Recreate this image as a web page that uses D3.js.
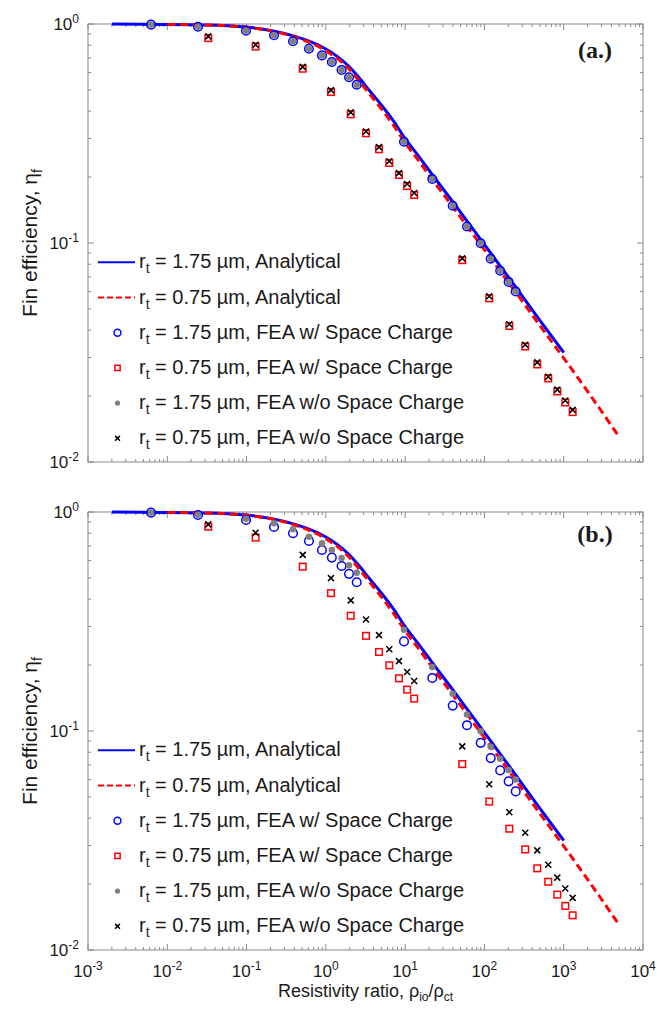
<!DOCTYPE html>
<html>
<head>
<meta charset="utf-8">
<script src="https://cdn.jsdelivr.net/npm/d3@7"></script>
<style>
  body { margin: 0; background: #fff; }
  text { font-family: "Liberation Sans", Arial, sans-serif; fill: #1a1a1a; }
</style>
</head>
<body>
<script>
  var w = 670 //width
  var h = 1011 //height
  var plotLeft = 88, plotRight = 643
  var panelTops = [24, 512]
  var panelH = 438

  //DATA

  // resistivity ratio of the FEA points
  var ratio175 = [0.00624, 0.0244, 0.0984, 0.222, 0.385, 0.612, 0.893, 1.19, 1.58, 1.96,
      2.45, 9.67, 22, 39.8, 60.3, 89.7, 120, 158, 202, 248];
  var ratio075 = [0.0329, 0.130, 0.511, 1.16, 2.06, 3.21, 4.68, 6.31, 8.36, 10.6,
      13.0, 52.5, 115, 206, 327, 464, 638, 830, 1047, 1297];

  // analytical curves
  var lineRatio175 = [0.002, 0.03, 0.1, 0.2, 0.4, 0.9, 1.4, 2, 2.5, 3.5, 5, 7, 10, 15, 22, 40, 90, 250, 500, 1000];
  var lineEta175 = [1.0, 0.99, 0.968, 0.935, 0.88, 0.785, 0.71, 0.635, 0.58, 0.50, 0.427, 0.364, 0.30, 0.2475,
      0.205, 0.154, 0.1035, 0.0627, 0.0443, 0.0316];
  var lineRatio075 = [0.01, 0.03, 0.1, 0.2, 0.4, 0.9, 1.4, 2, 2.5, 3.5, 5, 7, 10, 15, 22, 40, 90, 250, 500, 1000, 2000, 5100];
  var lineEta075 = [0.996, 0.99, 0.966, 0.932, 0.873, 0.772, 0.695, 0.618, 0.562, 0.483, 0.41, 0.348, 0.287, 0.236,
      0.195, 0.146, 0.098, 0.0594, 0.042, 0.0298, 0.021, 0.0129];

  // FEA without space charge (same in both panels)
  var eta175NoSC = [0.993, 0.972, 0.932, 0.888, 0.834, 0.771, 0.719, 0.671, 0.617, 0.571,
      0.528, 0.290, 0.196, 0.148, 0.119, 0.0997, 0.0848, 0.0747, 0.0664, 0.0601];
  var eta075NoSC = [0.878, 0.804, 0.637, 0.499, 0.395, 0.323, 0.274, 0.236, 0.2085, 0.186,
      0.169, 0.0851, 0.0571, 0.0426, 0.0343, 0.0285, 0.0245, 0.0214, 0.0191, 0.0173];

  // FEA with space charge, panel (a.)
  var eta175SCa = [0.993, 0.972, 0.932, 0.888, 0.834, 0.771, 0.719, 0.671, 0.617, 0.571,
      0.528, 0.290, 0.196, 0.148, 0.119, 0.0997, 0.0848, 0.0747, 0.0664, 0.0601];
  var eta075SCa = [0.862, 0.789, 0.625, 0.489, 0.387, 0.317, 0.268, 0.232, 0.2045, 0.182,
      0.1657, 0.0835, 0.0559, 0.0418, 0.0337, 0.0279, 0.0241, 0.021, 0.0187, 0.0169];

  // FEA with space charge, panel (b.)
  var eta175SCb = [0.993, 0.969, 0.920, 0.855, 0.800, 0.738, 0.671, 0.619, 0.567, 0.522,
      0.478, 0.2565, 0.1747, 0.1306, 0.1063, 0.0883, 0.0752, 0.0661, 0.0589, 0.053];
  var eta075SCb = [0.857, 0.764, 0.563, 0.426, 0.336, 0.272, 0.2296, 0.1995, 0.174, 0.1545,
      0.1406, 0.0706, 0.0476, 0.0358, 0.0288, 0.0236, 0.0205, 0.0179, 0.0159, 0.0144];

  var xTickExp = [-3, -2, -1, 0, 1, 2, 3, 4];
  var yTickExp = [-2, -1, 0];
  var panelLabels = ["(a.)", "(b.)"];
  var legendRadius = ["1.75", "0.75", "1.75", "0.75", "1.75", "0.75"];
  var legendKind = ["Analytical", "Analytical", "FEA w/ Space Charge", "FEA w/ Space Charge",
      "FEA w/o Space Charge", "FEA w/o Space Charge"];

  var panels = [
      { label: panelLabels[0], sc175: eta175SCa, sc075: eta075SCa, tickLabels: false },
      { label: panelLabels[1], sc175: eta175SCb, sc075: eta075SCb, tickLabels: true }
  ];

  //SCALES

  var x = d3.scaleLog()
      .domain([1e-3, 1e4])
      .range([plotLeft, plotRight]);

  var svg = d3.select("body")
      .append("svg")
      .attr("width", w)
      .attr("height", h);

  var axisColor = "#8a8a8a";

  function marker(g, kind, cx, cy, s) {
      if (kind == "circle") {
          g.append("circle").attr("cx", cx).attr("cy", cy).attr("r", 4.3 * s)
              .attr("fill", "none").attr("stroke", "#0000ff").attr("stroke-width", 1.5);
      } else if (kind == "square") {
          var a = 6.6 * s;
          g.append("rect").attr("x", cx - a / 2).attr("y", cy - a / 2).attr("width", a).attr("height", a)
              .attr("fill", "none").attr("stroke", "#ff0000").attr("stroke-width", 1.5);
      } else if (kind == "dot") {
          g.append("circle").attr("cx", cx).attr("cy", cy).attr("r", 3.3 * s)
              .attr("fill", "#808080");
      } else {
          var b = 3 * s;
          g.append("path")
              .attr("d", "M" + (cx - b) + "," + (cy - b) + "L" + (cx + b) + "," + (cy + b) +
                  "M" + (cx - b) + "," + (cy + b) + "L" + (cx + b) + "," + (cy - b))
              .attr("stroke", "#000").attr("stroke-width", 1.5);
      }
  }

  panels.forEach(function (p, pi) {
      var top = panelTops[pi];
      var y = d3.scaleLog()
          .domain([1e-2, 1])
          .range([top + panelH, top]);

      var g = svg.append("g");

      //AXES BOX AND TICKS
      g.append("rect")
          .attr("x", plotLeft).attr("y", top)
          .attr("width", plotRight - plotLeft).attr("height", panelH)
          .attr("fill", "none").attr("stroke", axisColor).attr("stroke-width", 1);

      x.ticks().forEach(function (t) {
          var major = Math.abs(Math.log10(t) - Math.round(Math.log10(t))) < 1e-9;
          var len = major ? 6 : 3;
          var px = x(t);
          g.append("line").attr("x1", px).attr("x2", px).attr("y1", top + panelH).attr("y2", top + panelH - len)
              .attr("stroke", axisColor);
          g.append("line").attr("x1", px).attr("x2", px).attr("y1", top).attr("y2", top + len)
              .attr("stroke", axisColor);
      });
      y.ticks().forEach(function (t) {
          var major = Math.abs(Math.log10(t) - Math.round(Math.log10(t))) < 1e-9;
          var len = major ? 6 : 3;
          var py = y(t);
          g.append("line").attr("x1", plotLeft).attr("x2", plotLeft + len).attr("y1", py).attr("y2", py)
              .attr("stroke", axisColor);
          g.append("line").attr("x1", plotRight).attr("x2", plotRight - len).attr("y1", py).attr("y2", py)
              .attr("stroke", axisColor);
      });

      //TICK LABELS
      yTickExp.forEach(function (e) {
          var t = g.append("text")
              .attr("x", plotLeft - 9).attr("y", y(Math.pow(10, e)) + 6)
              .attr("text-anchor", "end").attr("font-size", "17px");
          t.append("tspan").text("10");
          t.append("tspan").attr("dy", -7).attr("font-size", "12px").text(e);
      });
      if (p.tickLabels) {
          xTickExp.forEach(function (e) {
              var t = g.append("text")
                  .attr("x", x(Math.pow(10, e))).attr("y", top + panelH + 27)
                  .attr("text-anchor", "middle").attr("font-size", "17px");
              t.append("tspan").text("10");
              t.append("tspan").attr("dy", -7).attr("font-size", "12px").text(e);
          });
      }

      //Y TITLE
      var yt = g.append("text")
          .attr("transform", "translate(37," + (top + panelH / 2) + ") rotate(-90)")
          .attr("text-anchor", "middle").attr("font-size", "21px");
      yt.append("tspan").text("Fin efficiency, \u03b7");
      yt.append("tspan").attr("dy", 5).attr("font-size", "14px").text("f");

      //LINES
      var line = d3.line()
          .x(function (d) { return x(d[0]); })
          .y(function (d) { return y(d[1]); })
          .curve(d3.curveMonotoneX);

      g.append("path")
          .attr("d", line(d3.zip(lineRatio175, lineEta175)))
          .attr("fill", "none").attr("stroke", "#0000ff").attr("stroke-width", 3);
      g.append("path")
          .attr("d", line(d3.zip(lineRatio075, lineEta075)))
          .attr("fill", "none").attr("stroke", "#ff0000").attr("stroke-width", 3)
          .attr("stroke-dasharray", "8,4.5");

      //MARKERS
      var mg = g.append("g");
      ratio175.forEach(function (r, i) { marker(mg, "circle", x(r), y(p.sc175[i]), 1); });
      ratio075.forEach(function (r, i) { marker(mg, "square", x(r), y(p.sc075[i]), 1); });
      ratio175.forEach(function (r, i) { marker(mg, "dot", x(r), y(eta175NoSC[i]), 1); });
      ratio075.forEach(function (r, i) { marker(mg, "x", x(r), y(eta075NoSC[i]), 1); });

      //PANEL LABEL
      g.append("text")
          .attr("x", 595).attr("y", top + (pi == 0 ? 34 : 30))
          .attr("text-anchor", "middle")
          .style("font-family", "'Liberation Serif', 'Times New Roman', serif")
          .style("font-weight", "bold")
          .attr("font-size", "24px")
          .text(p.label);

      //LEGEND
      legendKind.forEach(function (k, i) {
          var ly = top + 238.3 + i * 35.2;
          if (i == 0) {
              g.append("line").attr("x1", 98).attr("x2", 135).attr("y1", ly).attr("y2", ly)
                  .attr("stroke", "#0000ff").attr("stroke-width", 2);
          } else if (i == 1) {
              g.append("line").attr("x1", 98).attr("x2", 135).attr("y1", ly).attr("y2", ly)
                  .attr("stroke", "#ff0000").attr("stroke-width", 2).attr("stroke-dasharray", "6,3");
          } else {
              marker(g, ["circle", "square", "dot", "x"][i - 2], 117.5, ly, 0.8);
          }
          var t = g.append("text").attr("x", 139).attr("y", ly + 6).attr("font-size", "20px");
          t.append("tspan").text("r");
          t.append("tspan").attr("dy", 5).attr("font-size", "14px").text("t");
          t.append("tspan").attr("dy", -5).text(" = " + legendRadius[i] + " \u00b5m, " + k);
      });
  });

  //X TITLE
  var xt = svg.append("text")
      .attr("x", (plotLeft + plotRight) / 2).attr("y", 997)
      .attr("text-anchor", "middle").attr("font-size", "18px");
  xt.append("tspan").text("Resistivity ratio, \u03c1");
  xt.append("tspan").attr("dy", 4).attr("font-size", "12px").text("io");
  xt.append("tspan").attr("dy", -4).text("/\u03c1");
  xt.append("tspan").attr("dy", 4).attr("font-size", "12px").text("ct");
</script>
</body>
</html>
